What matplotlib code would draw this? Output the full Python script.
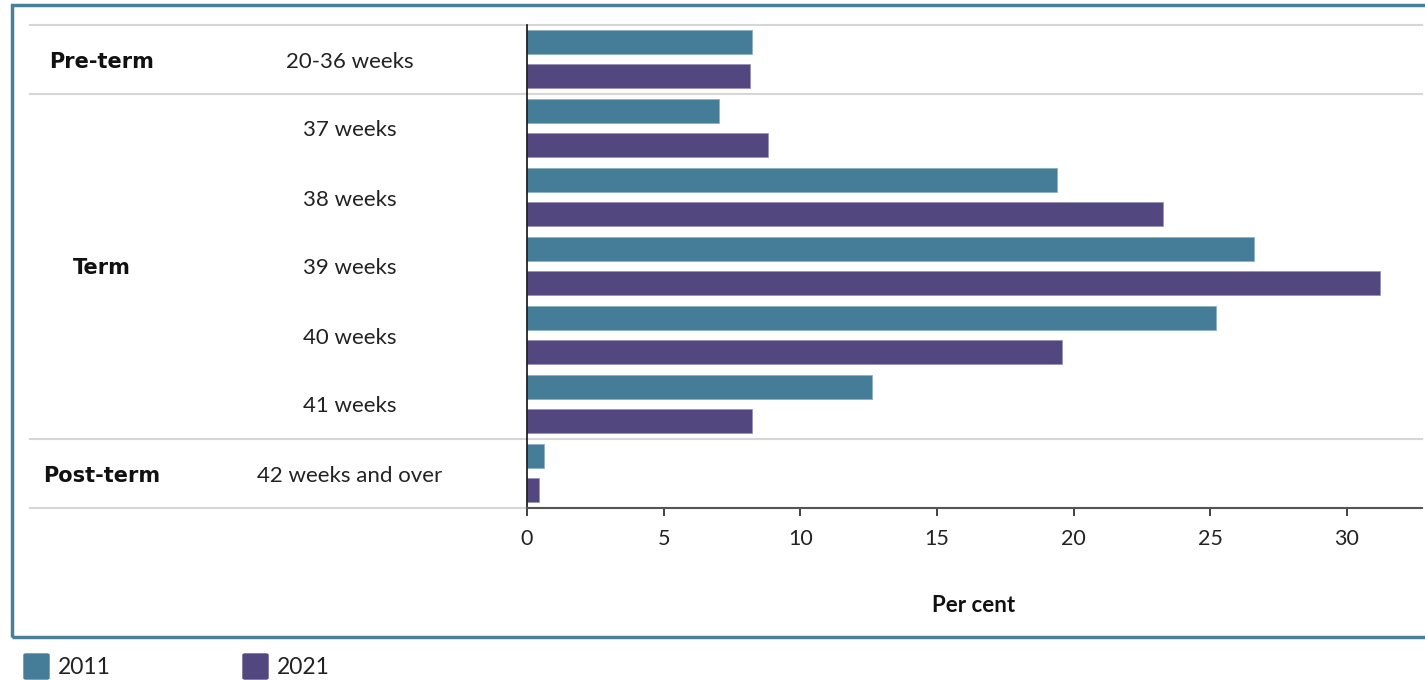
import numpy as np
import matplotlib.pyplot as plt
from matplotlib.patches import Rectangle, FancyBboxPatch

W, H = 1425, 680

weeks = ["20-36 weeks", "37 weeks", "38 weeks", "39 weeks",
         "40 weeks", "41 weeks", "42 weeks and over"]
groups = ["Pre-term", "Term", "Post-term"]
group_rows = [(0, 1), (1, 6), (6, 7)]   # row span of each group
y2011 = [8.23, 7.02, 19.39, 26.6, 25.2, 12.62, 0.62]
y2021 = [8.16, 8.82, 23.27, 31.2, 19.57, 8.23, 0.44]
years = ["2011", "2021"]
colors = ["#457c98", "#52487f"]

plt.rcParams['font.family'] = ['Lato', 'DejaVu Sans']

def fx(px):
    return px / W

def fy(py):
    return 1 - py / H

fig = plt.figure(figsize=(W / 100, H / 100), dpi=100)
ax = fig.add_axes([fx(527), fy(508), fx(1422) - fx(527), fy(25) - fy(508)])

rows = np.arange(len(weeks))
ax.barh(rows + 0.25, y2011, height=0.35, color=colors[0],
        edgecolor="#8fb0c2", linewidth=0.6)
ax.barh(rows + 0.74, y2021, height=0.35, color=colors[1],
        edgecolor="#9a93bb", linewidth=0.6)

ax.set_ylim(7, 0)
ax.set_xlim(0, 32.75)
ax.set_yticks([])
ax.set_xticks([0, 5, 10, 15, 20, 25, 30])
ax.tick_params(axis='x', length=6, width=1.2, pad=9, labelsize=15.5,
               colors="#222222")
for s in ["top", "right"]:
    ax.spines[s].set_visible(False)
ax.spines["left"].set_linewidth(1.2)
ax.spines["left"].set_color("#111111")
ax.spines["bottom"].set_linewidth(1.5)
ax.spines["bottom"].set_color("#555555")

# group separators running across the label columns
xmin = (30 - 527) / (1422 - 527)
for y in [0, 1, 6, 7]:
    ax.plot([xmin, 1], [y, y], transform=ax.get_yaxis_transform(),
            color="#d6d6d6", lw=1.5, clip_on=False, zorder=0)

# week labels and group labels
for i, w in enumerate(weeks):
    fig.text(fx(350), fy(27 + 69 * (i + 0.5)), w, ha="center", va="center",
             fontsize=16, color="#222222")
for g, (a, b) in zip(groups, group_rows):
    fig.text(fx(102), fy(27 + 69 * (a + b) / 2), g, ha="center", va="center",
             fontsize=15, fontweight="bold", color="#111111",
             family=["DejaVu Sans"])

fig.text(fx(974), fy(605), "Per cent", ha="center", va="center",
         fontsize=16, fontweight="bold", color="#111111")

# outer frame
fig.patches.append(Rectangle((fx(12), fy(637)), fx(1440) - fx(12),
                             fy(5) - fy(637), transform=fig.transFigure,
                             fill=False, edgecolor="#4a7f99", lw=2.5))

# legend
for k, (yr, c) in enumerate(zip(years, colors)):
    x0 = [24, 243][k]
    fig.patches.append(FancyBboxPatch((fx(x0), fy(679)), fx(25), fy(654) - fy(679),
                                      boxstyle="round,pad=0,rounding_size=0.0015",
                                      transform=fig.transFigure, color=c))
    fig.text(fx(x0 + 34), fy(668), yr, ha="left", va="center",
             fontsize=16.5, color="#222222")

fig.savefig("out.png", dpi=100)
